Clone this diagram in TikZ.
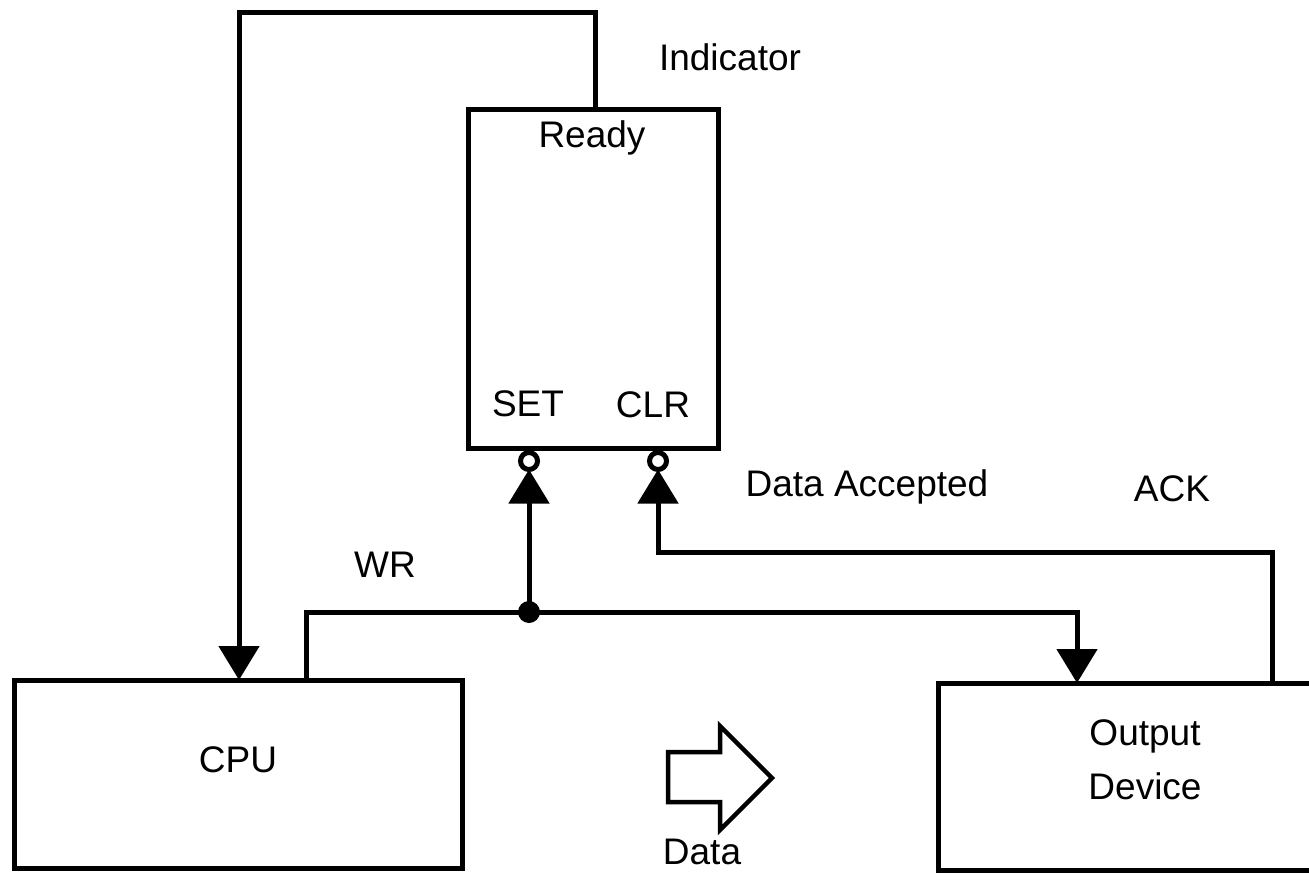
\documentclass[tikz,border=0pt]{standalone}
\usepackage{fontspec}
\setmainfont{Liberation Sans}
\usetikzlibrary{arrows.meta}
\begin{document}
\begin{tikzpicture}[x=1pt,y=-1pt,
  box/.style={draw,line width=5pt,rectangle,outer sep=0pt,inner sep=0pt},
  wire/.style={line width=5pt,line join=miter},
  arr/.style={wire,-{Triangle[width=40pt,length=34pt]}},
  lbl/.style={font=\fontsize{37}{44}\selectfont,inner sep=0pt},
  bubble/.style={circle,draw,fill=white,line width=5pt,minimum size=17pt,inner sep=0pt,outer sep=0pt}]
\useasboundingbox (0,0) rectangle (1309,880);
% boxes
\node[box,minimum width=250pt,minimum height=338pt] (ind) at (593,279) {};
\node[box,minimum width=448pt,minimum height=188pt] (cpu) at (238,774) {};
\node[box,minimum width=382pt,minimum height=187pt] (out) at (1129,776.5) {};
% labels
\node[lbl] (tind) at (730,57) {Indicator};
\node[lbl] (tready) at (592,138) {Ready};
\node[lbl] (tset) at (528,404) {SET};
\node[lbl] (tclr) at (653,405) {CLR};
\node[lbl] (tda) at (867,487) {Data Accepted};
\node[lbl] (tack) at (1172,489) {ACK};
\node[lbl] (twr) at (385,565) {WR};
\node[lbl] (tcpu) at (238,760) {CPU};
\node[lbl,align=center,font=\fontsize{37}{54}\selectfont] (tout) at (1145,760) {Output\\Device};
\node[lbl] (tdata) at (702,852) {Data};
% bubbles
\node[bubble] (setb) at (529,461) {};
\node[bubble] (clrb) at (658,461) {};
% coordinates
\coordinate (rdy) at (595,110);
\coordinate (topl) at (239,13);
\coordinate (cpuin) at (239,680);
\coordinate (wrs) at (306,680);
\coordinate (junc) at (529,612);
\coordinate (outin) at (1077,683);
\coordinate (acks) at (1272,683);
\coordinate (clrc) at (658,552);
% connectors
\draw[arr] (rdy) |- (topl) -- (cpuin);
\draw[arr] (wrs) |- (junc) -| (outin);
\draw[arr] (junc) -- (setb.south);
\draw[arr] (acks) |- (clrc) -- (clrb.south);
\fill (junc) circle (11pt);
% data block arrow
\draw[line width=4.5pt,line join=miter] (668,752) -- (720,752) -- (720,726) -- (772,778) -- (720,830) -- (720,802) -- (668,802) -- cycle;
\end{tikzpicture}
\end{document}
